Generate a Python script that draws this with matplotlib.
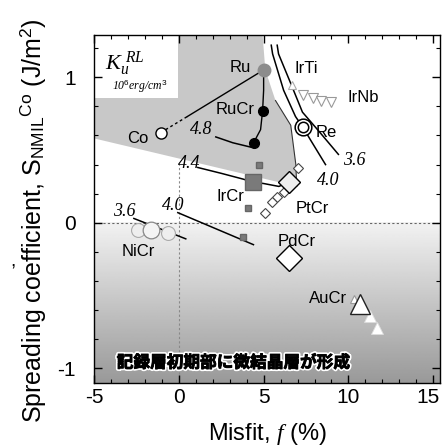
import matplotlib
matplotlib.use('Agg')
import matplotlib.pyplot as plt
import matplotlib.patheffects as pe
from matplotlib.ticker import MultipleLocator, FuncFormatter
import numpy as np

plt.rcParams['font.family'] = ['Liberation Sans', 'DejaVu Sans']
plt.rcParams['mathtext.fontset'] = 'custom'
plt.rcParams['mathtext.rm'] = 'Liberation Sans'
plt.rcParams['mathtext.it'] = 'Liberation Serif:italic'
plt.rcParams['axes.unicode_minus'] = False

# --- data (misfit %, spreading coefficient J/m2) ---
co_f, co_s = [-1.06], [0.62]
ru_f, ru_s = [5.0], [1.05]
rucr_f, rucr_s = [4.94, 4.41], [0.77, 0.55]
re_f, re_s = [7.35], [0.66]
irti_f, irti_s = [6.7], [0.95]
irnb_f = [7.35, 7.9, 8.4, 9.0]
irnb_s = [0.88, 0.86, 0.84, 0.83]
ircr_big_f, ircr_big_s = [4.35], [0.28]
ircr_f = [4.7, 4.1, 3.8]
ircr_s = [0.40, 0.10, -0.10]
ptcr_big_f, ptcr_big_s = [6.5], [0.28]
ptcr_f = [7.0, 6.2, 5.8, 5.5, 5.1]
ptcr_s = [0.38, 0.21, 0.18, 0.14, 0.07]
pdcr_f, pdcr_s = [6.47], [-0.24]
aucr_big_f, aucr_big_s = [10.7], [-0.56]
aucr_f = [11.3, 11.7]
aucr_s = [-0.64, -0.72]
aucr_faint_f, aucr_faint_s = [10.3], [-0.52]
nicr_f, nicr_s = [-1.65], [-0.05]
nicr_faint_f = [-2.4, -0.65]
nicr_faint_s = [-0.05, -0.07]

# connecting lines and Ku contours
co_ru_dash_f, co_ru_dash_s = [-1.06, 0.5], [0.62, 0.73]
co_ru_f, co_ru_s = [0.5, 5.0], [0.73, 1.05]
ru_rucr_f = [5.0, 5.0, 4.94, 4.82, 4.41]
ru_rucr_s = [1.05, 0.91, 0.77, 0.64, 0.55]
k48_f, k48_s = [2.18, 3.18, 4.24, 4.41], [0.59, 0.55, 0.52, 0.55]
k44_f = [1.12, 2.5, 3.8, 4.35, 5.0, 5.9, 6.5]
k44_s = [0.38, 0.34, 0.30, 0.28, 0.27, 0.25, 0.28]
k40u_f = [5.45, 5.53, 6.18, 6.88, 7.35, 7.76, 8.65]
k40u_s = [1.22, 1.16, 0.91, 0.73, 0.65, 0.57, 0.40]
k36u_f = [5.8, 5.88, 6.59, 7.29, 8.18, 9.41]
k36u_s = [1.22, 1.16, 0.96, 0.76, 0.64, 0.47]
k36l_f, k36l_s = [-2.65, 0.41], [0.03, -0.11]
k40l_f, k40l_s = [-0.06, 4.4], [0.07, -0.15]

# shaded wedge (upper) outline
wedge_f = [-5, -5, 4.94, 5.1, 5.7, 6.6, 6.9, 6.95]
wedge_s = [0.58, 1.29, 1.29, 1.05, 0.84, 0.67, 0.40, 0.25]

labels = [('Ru', 3.6, 1.07), ('RuCr', 3.3, 0.78), ('Co', -2.4, 0.58),
          ('Re', 8.7, 0.62), ('IrTi', 7.5, 1.06), ('IrNb', 10.9, 0.86),
          ('IrCr', 3.05, 0.18), ('PtCr', 7.9, 0.10), ('PdCr', 6.95, -0.13),
          ('AuCr', 8.8, -0.52), ('NiCr', -2.4, -0.20)]
contour_labels = [('4.8', 1.3, 0.64), ('4.4', 0.6, 0.41), ('3.6', 10.35, 0.43),
                  ('4.0', 8.8, 0.29), ('3.6', -3.2, 0.08), ('4.0', -0.35, 0.12)]

xmin, xmax, ymin, ymax = -5, 15.4, -1.1, 1.29

fig = plt.figure(figsize=(4.42, 4.46), dpi=100)
ax = fig.add_axes([0.2127, 0.1413, 0.7828, 0.7802])
ax.set_xlim(xmin, xmax)
ax.set_ylim(ymin, ymax)

# lower shading: darkens downward
grad = np.linspace(0.60, 0.95, 200).reshape(-1, 1)
ax.imshow(grad, extent=(xmin, xmax, ymin, 0), origin='lower', cmap='gray',
          vmin=0, vmax=1, aspect='auto', zorder=0)

# upper shaded wedge and white inset box
ax.fill(wedge_f, wedge_s, color='#c8c8c8', lw=0, zorder=0.5)
ax.plot(wedge_f[4:], wedge_s[4:], color='#333333', lw=0.8, zorder=1)
ax.add_patch(plt.Rectangle((xmin, 0.86), 4.95, ymax - 0.86, facecolor='white',
                           edgecolor='none', zorder=0.6))

ax.axhline(0, color='#666666', lw=0.8, ls=(0, (2, 2)), zorder=1)
ax.plot([0, 0], [ymin, 0.42], color='#888888', lw=0.8, ls=(0, (2, 2)), zorder=1)

# lines
ax.plot(co_ru_dash_f, co_ru_dash_s, color='black', lw=1, ls=(0, (2, 2)), zorder=2)
ax.plot(co_ru_f, co_ru_s, color='black', lw=1, zorder=2)
ax.plot(ru_rucr_f, ru_rucr_s, color='black', lw=1, zorder=2)
for cf, cs in [(k48_f, k48_s), (k44_f, k44_s), (k40u_f, k40u_s),
               (k36u_f, k36u_s), (k36l_f, k36l_s), (k40l_f, k40l_s)]:
    ax.plot(cf, cs, color='black', lw=1.1, zorder=2)

# markers
ax.plot(nicr_faint_f, nicr_faint_s, 'o', ms=10, mfc='#eeeeee', mec='#aaaaaa', mew=0.8, zorder=3)
ax.plot(nicr_f, nicr_s, 'o', ms=12, mfc='#f4f4f4', mec='#888888', mew=0.9, zorder=3)
ax.plot(co_f, co_s, 'o', ms=8, mfc='white', mec='black', mew=1, zorder=4)
ax.plot(ru_f, ru_s, 'o', ms=9, mfc='#8c8c8c', mec='#8c8c8c', zorder=4)
ax.plot(rucr_f, rucr_s, 'o', ms=7, mfc='black', mec='black', zorder=4)
ax.plot(re_f, re_s, 'o', ms=12, mfc='white', mec='black', mew=1.1, zorder=4)
ax.plot(re_f, re_s, 'o', ms=7.5, mfc='white', mec='black', mew=1.1, zorder=4)
ax.plot(irti_f, irti_s, '^', ms=6, mfc='white', mec='#aaaaaa', mew=0.8, zorder=3)
ax.plot(irnb_f, irnb_s, 'v', ms=7, mfc='white', mec='#999999', mew=0.8, zorder=3)
ax.plot(ircr_big_f, ircr_big_s, 's', ms=11, mfc='#7a7a7a', mec='#666666', zorder=4)
ax.plot(ircr_f, ircr_s, 's', ms=5, mfc='#7a7a7a', mec='#666666', zorder=4)
ax.plot(ptcr_f, ptcr_s, 'D', ms=5.5, mfc='white', mec='#444444', mew=0.8, zorder=4)
ax.plot(ptcr_big_f, ptcr_big_s, 'D', ms=11, mfc='#eeeeee', mec='black', mew=1, zorder=4)
ax.plot(pdcr_f, pdcr_s, 'D', ms=13, mfc='white', mec='black', mew=1, zorder=4)
ax.plot(aucr_faint_f, aucr_faint_s, '^', ms=6, mfc='white', mec='#999999', mew=0.8, zorder=4)
ax.plot(aucr_f, aucr_s, '^', ms=8, mfc='white', mec='#dddddd', mew=0.6, zorder=4)
ax.plot(aucr_big_f, aucr_big_s, '^', ms=15, mfc='white', mec='#222222', mew=1, zorder=4)

for txt, x, y in labels:
    ax.text(x, y, txt, fontsize=12, ha='center', va='center', zorder=5)
for txt, x, y in contour_labels:
    ax.text(x, y, txt, fontsize=13, family='Liberation Serif', style='italic',
            ha='center', va='center', zorder=5)

ax.text(-3.2, 1.09, r'$K_u^{\ RL}$', fontsize=16, ha='center', va='center', zorder=5)
ax.text(-2.3, 0.94, r'10$^6$erg/cm$^3$', fontsize=8.5, family='Liberation Serif',
        style='italic', ha='center', va='center', zorder=5)

ax.text(3.2, -0.96, '記録層初期部に微結晶層が形成', fontsize=12, fontweight='bold',
        family=['Noto Sans CJK JP', 'DejaVu Sans'], ha='center', va='center', zorder=5,
        path_effects=[pe.Stroke(linewidth=3, foreground='white'),
                      pe.Stroke(linewidth=0.6, foreground='black'), pe.Normal()])

ax.xaxis.set_major_locator(MultipleLocator(5))
ax.xaxis.set_minor_locator(MultipleLocator(1))
ax.yaxis.set_major_locator(MultipleLocator(1))
ax.yaxis.set_minor_locator(MultipleLocator(0.2))
ax.tick_params(which='both', direction='in', top=True, right=True, labelsize=15)
ax.tick_params(which='major', length=6, width=1)
ax.tick_params(which='minor', length=3, width=0.8)
ax.tick_params(axis='y', which='major', pad=13)
for sp in ax.spines.values():
    sp.set_linewidth(1)

# the last x tick label sits at the picture's edge: draw it nudged inwards
ax.xaxis.set_major_formatter(FuncFormatter(lambda v, p: '' if v > 14 else '%d' % v))
ax.annotate('15', xy=(15, 0), xycoords=ax.get_xaxis_transform(), xytext=(-3.5, -3.5),
            textcoords='offset points', ha='center', va='top', fontsize=15)

ax.set_xlabel(r'Misfit, $f$ (%)', fontsize=17, labelpad=10)
fig.text(33 / 442, 0.505, r'Spreading coefficient, $\mathrm{S}_{\mathrm{NMIL}}{}^{\mathrm{Co}}$ (J/m$^2$)',
         rotation=90, fontsize=18, ha='center', va='center')
fig.text(13 / 442, 1 - 262 / 446, ',', fontsize=14, ha='center', va='center')

fig.savefig('out.png', dpi=100)
